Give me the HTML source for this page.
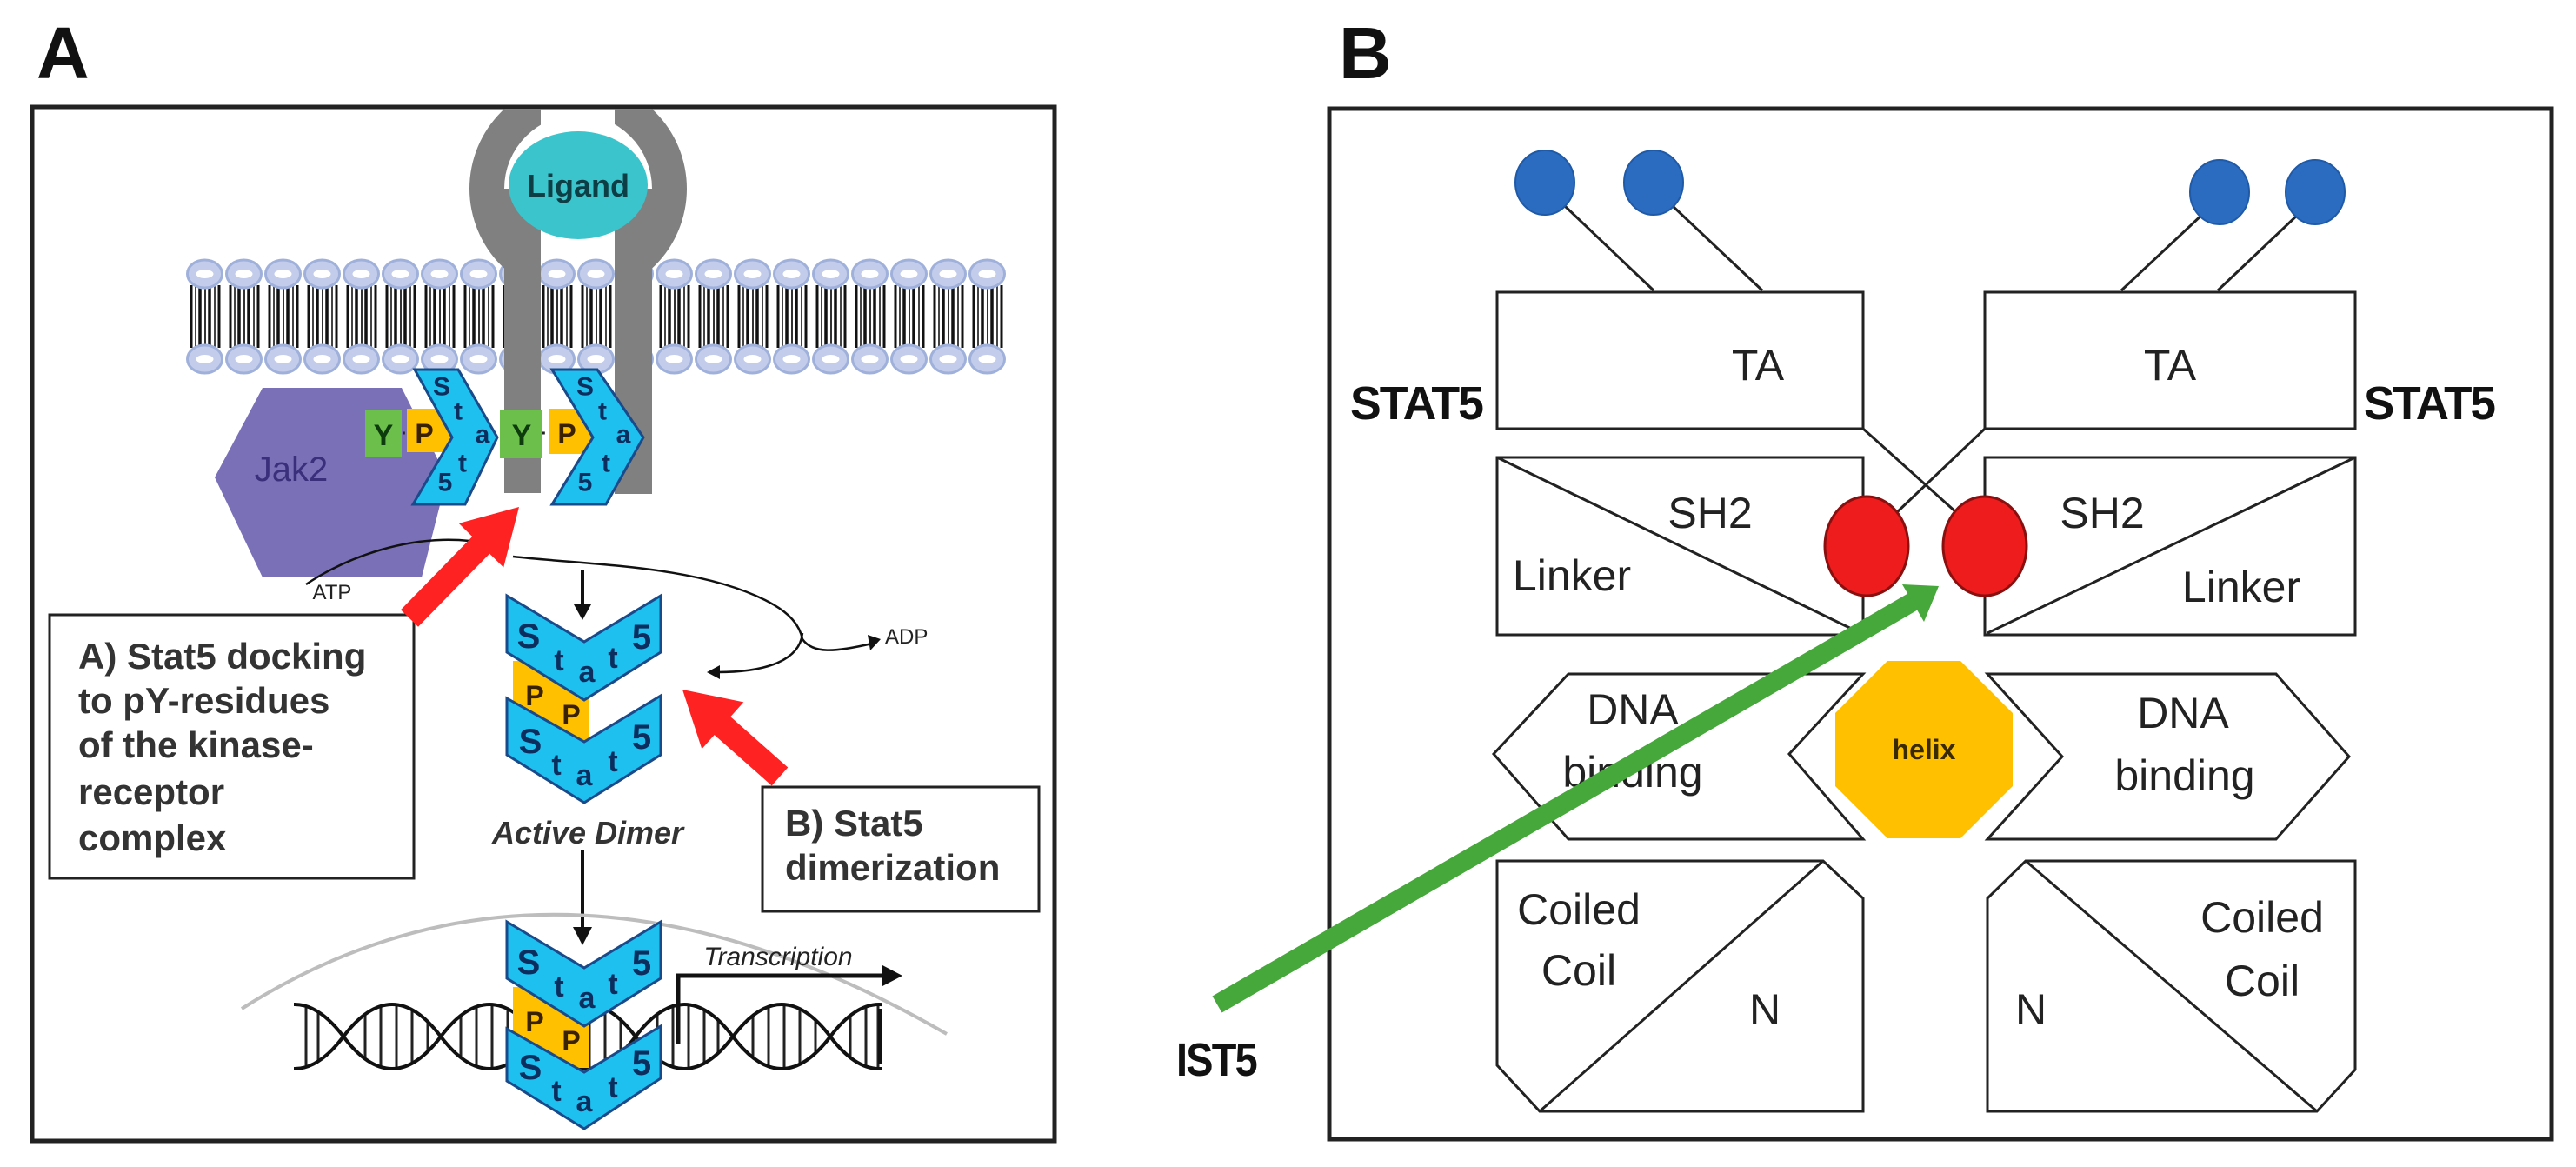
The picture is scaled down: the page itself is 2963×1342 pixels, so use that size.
<!DOCTYPE html>
<html><head><meta charset="utf-8"><style>
html,body{margin:0;padding:0;background:#fff;}
svg{display:block;}
text{font-family:"Liberation Sans",sans-serif;}
</style></head><body>
<svg width="2963" height="1342" viewBox="0 0 2963 1342" xmlns="http://www.w3.org/2000/svg">
<defs>
<pattern id="mem" x="213" y="290" width="45" height="145" patternUnits="userSpaceOnUse">
<line x1="7" y1="38" x2="7" y2="110" stroke="#111" stroke-width="3"/>
<line x1="12" y1="38" x2="12" y2="110" stroke="#444" stroke-width="2"/>
<line x1="17" y1="38" x2="17" y2="110" stroke="#111" stroke-width="3.5"/>
<line x1="23" y1="38" x2="23" y2="110" stroke="#333" stroke-width="2"/>
<line x1="28" y1="38" x2="28" y2="110" stroke="#111" stroke-width="3.5"/>
<line x1="34" y1="38" x2="34" y2="110" stroke="#444" stroke-width="2"/>
<line x1="39" y1="38" x2="39" y2="110" stroke="#111" stroke-width="3"/>
<ellipse cx="22.5" cy="25" rx="20" ry="16" fill="#c3cdeb" stroke="#9fb0db" stroke-width="3"/>
<ellipse cx="22.5" cy="25" rx="10" ry="5" fill="#fff"/>
<ellipse cx="22.5" cy="123" rx="20" ry="16" fill="#c3cdeb" stroke="#9fb0db" stroke-width="3"/>
<ellipse cx="22.5" cy="123" rx="10" ry="5" fill="#fff"/>
</pattern>
<clipPath id="rc"><rect x="37" y="125" width="585" height="500"/><rect x="707" y="125" width="500" height="500"/></clipPath>
<clipPath id="dnax"><rect x="338" y="1100" width="676" height="200"/></clipPath>
<clipPath id="dnac"><path d="M283,1192 Q339,1118 395,1192 Q339,1266 283,1192 Z M395,1192 Q451,1118 507,1192 Q451,1266 395,1192 Z M507,1192 Q563,1118 619,1192 Q563,1266 507,1192 Z M619,1192 Q675,1118 731,1192 Q675,1266 619,1192 Z M731,1192 Q787,1118 843,1192 Q787,1266 731,1192 Z M843,1192 Q899,1118 955,1192 Q899,1266 843,1192 Z M955,1192 Q1011,1118 1067,1192 Q1011,1266 955,1192 Z"/></clipPath>
</defs>

<!-- Panel labels -->
<text x="42" y="90" font-size="84" font-weight="bold" fill="#111">A</text>
<text x="1540" y="90" font-size="84" font-weight="bold" fill="#111">B</text>

<!-- Panel A box -->
<rect x="37" y="123" width="1176" height="1189" fill="#fff" stroke="#222" stroke-width="5"/>

<!-- membrane -->
<rect x="213" y="290" width="945" height="145" fill="url(#mem)"/>

<!-- receptor -->
<g fill="#808080" clip-path="url(#rc)">
<path fill-rule="evenodd" d="M540,217 a125,125 0 1,0 250,0 a125,125 0 1,0 -250,0 Z M580,217 a85,85 0 1,0 170,0 a85,85 0 1,0 -170,0 Z"/>
<rect x="580" y="217" width="42" height="350"/>
<rect x="707" y="217" width="43" height="351"/>
</g>
<ellipse cx="665" cy="213" rx="80" ry="62" fill="#3cc4cc"/>
<text x="665" y="226" font-size="36" font-weight="bold" fill="#0d3d45" text-anchor="middle">Ligand</text>

<!-- Jak2 -->
<polygon points="247,549 302,446 462,446 514,549 485,664 302,664" fill="#7a70b8"/>
<text x="335" y="553" font-size="40" fill="#3a2f7a" text-anchor="middle">Jak2</text>

<!-- Y P boxes -->
<rect x="420" y="472" width="42" height="53" fill="#6cbf4a"/>
<rect x="468" y="470" width="52" height="50" fill="#ffc000"/>
<text x="441" y="512" font-size="34" font-weight="bold" fill="#0d3b0d" text-anchor="middle">Y</text>
<text x="465" y="505" font-size="20" font-weight="bold" fill="#222" text-anchor="middle">·</text>
<text x="488" y="510" font-size="32" font-weight="bold" fill="#3a2200" text-anchor="middle">P</text>
<rect x="575" y="472" width="48" height="55" fill="#6cbf4a"/>
<rect x="632" y="470" width="50" height="52" fill="#ffc000"/>
<text x="600" y="512" font-size="34" font-weight="bold" fill="#0d3b0d" text-anchor="middle">Y</text>
<text x="626" y="505" font-size="20" font-weight="bold" fill="#222" text-anchor="middle">·</text>
<text x="652" y="510" font-size="32" font-weight="bold" fill="#3a2200" text-anchor="middle">P</text>

<!-- membrane Stat5 chevrons -->
<g fill="#1ec0f0" stroke="#1a4a8a" stroke-width="3">
<polygon points="477,425 527,425 572,503 535,580 475,580 520,503"/>
<polygon points="635,425 687,425 740,503 697,580 635,580 682,503"/>
</g>
<g font-size="30" font-weight="bold" fill="#0b2e5e" text-anchor="middle" dominant-baseline="central">
<text x="508" y="445">S</text><text x="527" y="473">t</text><text x="555" y="500">a</text><text x="532" y="533">t</text><text x="512" y="555">5</text>
<text x="673" y="445">S</text><text x="693" y="473">t</text><text x="717" y="500">a</text><text x="697" y="533">t</text><text x="673" y="555">5</text>
</g>

<!-- ATP / ADP curves -->
<g fill="none" stroke="#111" stroke-width="2.5">
<path d="M352,672 C400,640 470,615 540,622"/>
<path d="M590,640 C680,650 800,650 880,690 C910,705 920,720 923,735 C935,752 960,750 1003,740"/>
<path d="M923,728 C920,760 880,773 825,773"/>
</g>
<polygon points="1013,735 998,730 1001,748" fill="#111"/>
<polygon points="813,773 828,765 828,781" fill="#111"/>
<text x="382" y="689" font-size="24" fill="#222" text-anchor="middle">ATP</text>
<text x="1018" y="740" font-size="24" fill="#222">ADP</text>

<!-- black down arrows -->
<line x1="670" y1="655" x2="670" y2="700" stroke="#111" stroke-width="4"/>
<polygon points="660,695 680,695 670,713" fill="#111"/>
<line x1="670" y1="977" x2="670" y2="1072" stroke="#111" stroke-width="4"/>
<polygon points="659,1066 681,1066 670,1087" fill="#111"/>

<!-- middle dimer -->
<g>
<rect x="590" y="760" width="87" height="93" fill="#ffc000"/>
<g fill="#1ec0f0" stroke="#1a4a8a" stroke-width="3">
<polygon points="583,685 672,738 760,685 760,750 672,805 583,750"/>
<polygon points="583,803 672,853 760,800 760,868 672,923 583,868"/>
</g>
<g font-size="40" font-weight="bold" fill="#0b2e5e" text-anchor="middle" dominant-baseline="central">
<text x="608" y="732">S</text><text x="643" y="760" font-size="34">t</text><text x="675" y="773" font-size="34">a</text><text x="705" y="757" font-size="34">t</text><text x="738" y="733">5</text>
<text x="610" y="853">S</text><text x="640" y="880" font-size="34">t</text><text x="672" y="892" font-size="34">a</text><text x="705" y="876" font-size="34">t</text><text x="738" y="848">5</text>
</g>
<g font-size="32" font-weight="bold" fill="#3a2200" text-anchor="middle" dominant-baseline="central">
<text x="615" y="800">P</text><text x="657" y="822">P</text>
</g>
</g>
<text x="676" y="970" font-size="36" font-style="italic" font-weight="bold" fill="#333" text-anchor="middle">Active Dimer</text>

<!-- nucleus arc -->
<path d="M278,1160 Q640,930 1089,1189" fill="none" stroke="#bdbdbd" stroke-width="4"/>

<!-- DNA -->
<g clip-path="url(#dnax)">
<g clip-path="url(#dnac)" stroke="#222" stroke-width="3">
<path d="M352,1100 v200 M366,1100 v200 M420,1100 v200 M438,1100 v200 M456,1100 v200 M474,1100 v200 M492,1100 v200 M530,1100 v200 M548,1100 v200 M566,1100 v200 M584,1100 v200 M600,1100 v200 M642,1100 v200 M660,1100 v200 M678,1100 v200 M696,1100 v200 M714,1100 v200 M756,1100 v200 M774,1100 v200 M792,1100 v200 M810,1100 v200 M826,1100 v200 M866,1100 v200 M884,1100 v200 M902,1100 v200 M920,1100 v200 M938,1100 v200 M978,1100 v200 M996,1100 v200 M1010,1100 v200"/>
</g>
<g fill="none" stroke="#111" stroke-width="4">
<path d="M283,1192 Q339,1118 395,1192 T507,1192 T619,1192 T731,1192 T843,1192 T955,1192 T1067,1192"/>
<path d="M283,1192 Q339,1266 395,1192 T507,1192 T619,1192 T731,1192 T843,1192 T955,1192 T1067,1192"/>
</g>
</g>
<path d="M1012,1160 v64" stroke="#111" stroke-width="4"/>

<!-- transcription -->
<polyline points="780,1200 780,1122 1020,1122" fill="none" stroke="#111" stroke-width="5"/>
<polygon points="1038,1122 1015,1110 1015,1134" fill="#111"/>
<text x="895" y="1110" font-size="30" font-style="italic" fill="#222" text-anchor="middle">Transcription</text>

<!-- bottom dimer -->
<g transform="translate(0,375)">
<rect x="590" y="760" width="87" height="93" fill="#ffc000"/>
<g fill="#1ec0f0" stroke="#1a4a8a" stroke-width="3">
<polygon points="583,685 672,738 760,685 760,750 672,805 583,750"/>
<polygon points="583,808 672,858 760,805 760,865 672,923 583,868"/>
</g>
<g font-size="40" font-weight="bold" fill="#0b2e5e" text-anchor="middle" dominant-baseline="central">
<text x="608" y="732">S</text><text x="643" y="760" font-size="34">t</text><text x="675" y="773" font-size="34">a</text><text x="705" y="757" font-size="34">t</text><text x="738" y="733">5</text>
<text x="610" y="853">S</text><text x="640" y="880" font-size="34">t</text><text x="672" y="892" font-size="34">a</text><text x="705" y="876" font-size="34">t</text><text x="738" y="848">5</text>
</g>
<g font-size="32" font-weight="bold" fill="#3a2200" text-anchor="middle" dominant-baseline="central">
<text x="615" y="800">P</text><text x="657" y="822">P</text>
</g>
</g>

<!-- A) box -->
<rect x="57" y="707" width="419" height="303" fill="#fff" stroke="#222" stroke-width="3"/>
<g font-size="42" font-weight="bold" fill="#333">
<text x="90" y="769">A) Stat5 docking</text>
<text x="90" y="820">to pY-residues</text>
<text x="90" y="871">of the kinase-</text>
<text x="90" y="925">receptor</text>
<text x="90" y="978">complex</text>
</g>

<!-- B) box -->
<rect x="877" y="905" width="318" height="143" fill="#fff" stroke="#222" stroke-width="3"/>
<g font-size="42" font-weight="bold" fill="#333">
<text x="903" y="961">B) Stat5</text>
<text x="903" y="1012">dimerization</text>
</g>

<!-- red arrows -->
<line x1="471" y1="711" x2="556" y2="624" stroke="#ff2222" stroke-width="28"/>
<polygon points="597,583 579.2,652.5 527.8,601.9" fill="#ff2222"/>
<line x1="897" y1="893" x2="828" y2="832" stroke="#ff2222" stroke-width="28"/>
<polygon points="785,793 855.3,807.4 807.3,861.2" fill="#ff2222"/>

<!-- Panel B box -->
<rect x="1529" y="125" width="1406" height="1185" fill="#fff" stroke="#222" stroke-width="5"/>

<g fill="none" stroke="#222" stroke-width="3">
<line x1="1800" y1="237" x2="1902" y2="334"/>
<line x1="1924" y1="237" x2="2027" y2="334"/>
<line x1="2535" y1="245" x2="2440" y2="334"/>
<line x1="2645" y1="245" x2="2551" y2="334"/>
<rect x="1722" y="336" width="421" height="157"/>
<rect x="2283" y="336" width="426" height="157"/>
<rect x="1722" y="526" width="421" height="204"/>
<rect x="2283" y="526" width="426" height="204"/>
<line x1="1722" y1="526" x2="2140" y2="728"/>
<line x1="2709" y1="526" x2="2286" y2="728"/>
<line x1="2143" y1="493" x2="2251" y2="590"/>
<line x1="2283" y1="493" x2="2181" y2="590"/>
<polygon points="1718,867 1804,775 2143,775 2058,867 2143,965 1804,965"/>
<polygon points="2286,775 2618,775 2702,870 2618,965 2286,965 2372,870"/>
<polygon points="1722,990 2097,990 2143,1033 2143,1278 1771,1278 1722,1225"/>
<line x1="2097" y1="990" x2="1771" y2="1278"/>
<polygon points="2330,990 2709,990 2709,1230 2665,1278 2286,1278 2286,1033"/>
<line x1="2330" y1="990" x2="2665" y2="1278"/>
</g>

<g fill="#2b6cc0" stroke="#1f5aa8" stroke-width="2">
<ellipse cx="1777" cy="210" rx="34" ry="37"/>
<ellipse cx="1902" cy="210" rx="34" ry="37"/>
<ellipse cx="2553" cy="221" rx="34" ry="37"/>
<ellipse cx="2663" cy="221" rx="34" ry="37"/>
</g>

<g fill="#ee1c1c" stroke="#8a1010" stroke-width="3">
<ellipse cx="2147" cy="628" rx="48" ry="57"/>
<ellipse cx="2283" cy="628" rx="48" ry="57"/>
</g>

<polygon points="2255,760 2315,820 2315,904 2255,964 2171,964 2111,904 2111,820 2171,760" fill="#ffc000"/>
<text x="2213" y="873" font-size="32" font-weight="bold" fill="#3a2a00" text-anchor="middle">helix</text>

<g font-size="50" fill="#222" text-anchor="middle" dominant-baseline="central">
<text x="2022" y="420">TA</text>
<text x="2496" y="420">TA</text>
<text x="1967" y="590">SH2</text>
<text x="1808" y="662">Linker</text>
<text x="2418" y="590">SH2</text>
<text x="2578" y="675">Linker</text>
<text x="1878" y="816">DNA</text>
<text x="1878" y="888">binding</text>
<text x="2511" y="820">DNA</text>
<text x="2513" y="892">binding</text>
<text x="1816" y="1046">Coiled</text>
<text x="1816" y="1116">Coil</text>
<text x="2030" y="1161">N</text>
<text x="2602" y="1055">Coiled</text>
<text x="2602" y="1128">Coil</text>
<text x="2336" y="1161">N</text>
</g>
<g font-size="54" font-weight="bold" fill="#111" letter-spacing="-2">
<text x="1553" y="482" textLength="152" lengthAdjust="spacingAndGlyphs">STAT5</text>
<text x="2719" y="482" textLength="150" lengthAdjust="spacingAndGlyphs">STAT5</text>
<text x="1353" y="1237" textLength="92" lengthAdjust="spacingAndGlyphs">IST5</text>
</g>

<line x1="1400" y1="1155" x2="2200" y2="692" stroke="#46a83a" stroke-width="22"/>
<polygon points="2230,674 2213,715 2188,672" fill="#46a83a"/>
</svg>
</body></html>
